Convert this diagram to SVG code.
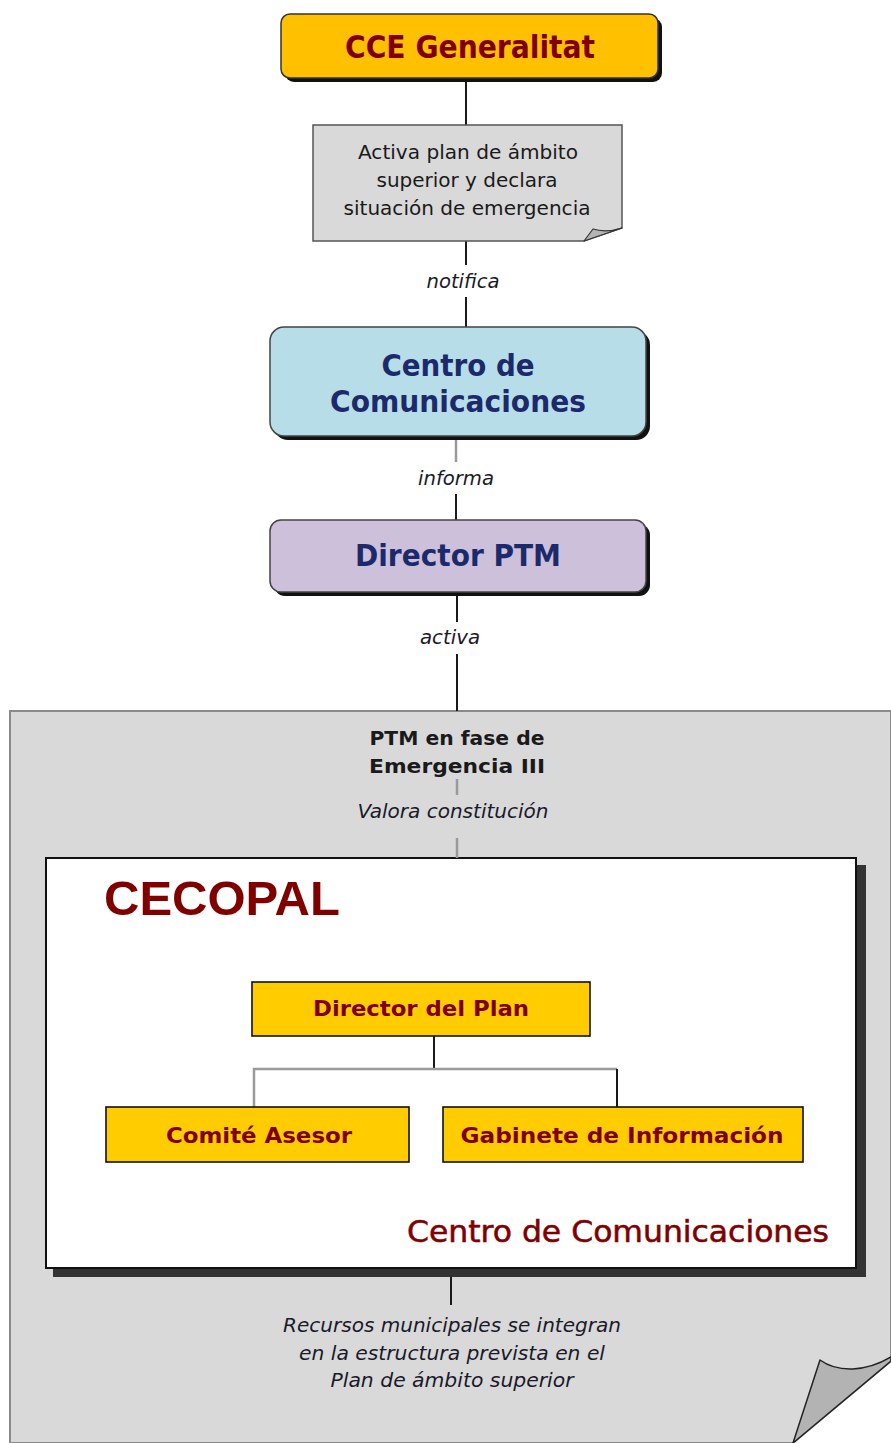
<svg xmlns="http://www.w3.org/2000/svg" width="891" height="1443" viewBox="0 0 891 1443">
<defs>
<style>
.t{font-family:"DejaVu Sans Condensed","DejaVu Sans",sans-serif;text-anchor:middle}
.b{font-weight:bold}
.i{font-style:italic;fill:#1a1a2a;font-size:19px}
.red{fill:#800000}
.navy{fill:#1c2a6b}
.dark{fill:#1a1a1a}
.ln{stroke:#1a1a1a;stroke-width:2;fill:none}
.lg{stroke:#9a9a9a;stroke-width:2.5;fill:none}
.shadow{fill:#111}
.gold{fill:#FFC000;stroke:#333;stroke-width:1.5}
.ybox{fill:#FFCC00;stroke:#111;stroke-width:1.6}
</style>
</defs>
<rect width="891" height="1443" fill="#fff"/>

<!-- big panel -->
<g id="panel">
<path d="M10,711 H891 V1361 L793,1443 H10 Z" fill="#d9d9d9" stroke="#8a8a8a" stroke-width="2"/>
<path d="M793,1443 L820,1360 C838,1373 866,1372 891,1357 L891,1361 Z" fill="#b3b3b3" stroke="#222" stroke-width="1.5" stroke-linejoin="round"/>
<text class="t b dark" x="457" y="745" font-size="19" textLength="175" lengthAdjust="spacingAndGlyphs">PTM en fase de</text>
<text class="t b dark" x="457" y="773" font-size="19" textLength="176" lengthAdjust="spacingAndGlyphs">Emergencia III</text>
</g>

<g id="cecopal">
<rect x="53" y="865" width="813" height="412" fill="#333"/>
<rect x="46" y="858" width="810" height="410" fill="#fff" stroke="#111" stroke-width="2"/>
<text x="104" y="915" font-family="'Liberation Sans',Arial,sans-serif" font-weight="bold" font-size="49" fill="#800000">CECOPAL</text>
<text class="t red" x="829" y="1242" font-size="30" style="text-anchor:end" stroke="#800000" stroke-width="0.5" textLength="422" lengthAdjust="spacingAndGlyphs">Centro de Comunicaciones</text>
</g>

<g id="connectors">
<line class="ln" x1="466" y1="78" x2="466" y2="125"/>
<line class="ln" x1="466" y1="240" x2="466" y2="265"/>
<line class="ln" x1="466" y1="297" x2="466" y2="327"/>
<line class="lg" x1="456" y1="437" x2="456" y2="462"/>
<line class="ln" x1="456" y1="494" x2="456" y2="520"/>
<line class="ln" x1="457" y1="593" x2="457" y2="622"/>
<line class="ln" x1="457" y1="654" x2="457" y2="711"/>
<line class="lg" x1="457" y1="779" x2="457" y2="795"/>
<line class="lg" x1="457" y1="838" x2="457" y2="858"/>
<line class="ln" x1="434" y1="1036" x2="434" y2="1068"/>
<path class="lg" d="M254,1107 V1069 H617"/>
<line class="ln" x1="617" y1="1069" x2="617" y2="1107"/>
<line class="ln" stroke-width="1.5" x1="451" y1="1277" x2="451" y2="1305"/>
<text class="t i" x="463" y="288" textLength="73" lengthAdjust="spacingAndGlyphs">notifica</text>
<text class="t i" x="456" y="485" textLength="76" lengthAdjust="spacingAndGlyphs">informa</text>
<text class="t i" x="450" y="644" textLength="60" lengthAdjust="spacingAndGlyphs">activa</text>
<text class="t i" x="453" y="818" textLength="191" lengthAdjust="spacingAndGlyphs">Valora constitución</text>
<text class="t i" x="452" y="1332" textLength="338" lengthAdjust="spacingAndGlyphs">Recursos municipales se integran</text>
<text class="t i" x="452" y="1360" textLength="306" lengthAdjust="spacingAndGlyphs">en la estructura prevista en el</text>
<text class="t i" x="452" y="1387" textLength="243" lengthAdjust="spacingAndGlyphs">Plan de ámbito superior</text>
</g>

<g id="cce">
<rect class="shadow" x="285" y="18" width="377" height="64" rx="9"/>
<rect class="gold" x="281" y="14" width="377" height="64" rx="9"/>
<text class="t b red" x="470" y="58" font-size="32" textLength="250" lengthAdjust="spacingAndGlyphs">CCE Generalitat</text>
</g>

<g id="note">
<path d="M313,125 H622 V228 L584,241 H313 Z" fill="#d9d9d9" stroke="#555" stroke-width="1.5"/>
<path d="M584,241 L593,229 Q606,233 622,228 Z" fill="#b3b3b3" stroke="#333" stroke-width="1.2" stroke-linejoin="round"/>
<text class="t dark" x="468" y="159" font-size="19" textLength="220" lengthAdjust="spacingAndGlyphs">Activa plan de ámbito</text>
<text class="t dark" x="467" y="187" font-size="19" textLength="181" lengthAdjust="spacingAndGlyphs">superior y declara</text>
<text class="t dark" x="467" y="215" font-size="19" textLength="247" lengthAdjust="spacingAndGlyphs">situación de emergencia</text>
</g>

<g id="centro">
<rect class="shadow" x="274" y="331" width="376" height="109" rx="14"/>
<rect x="270" y="327" width="376" height="109" rx="14" fill="#b7dde8" stroke="#444" stroke-width="1.5"/>
<text class="t b navy" x="458" y="376" font-size="31" textLength="153" lengthAdjust="spacingAndGlyphs">Centro de</text>
<text class="t b navy" x="458" y="412" font-size="31" textLength="256" lengthAdjust="spacingAndGlyphs">Comunicaciones</text>
</g>

<g id="director-ptm">
<rect class="shadow" x="274" y="524" width="376" height="72" rx="11"/>
<rect x="270" y="520" width="376" height="72" rx="11" fill="#ccc0da" stroke="#444" stroke-width="1.5"/>
<text class="t b navy" x="458" y="566" font-size="31" textLength="206" lengthAdjust="spacingAndGlyphs">Director PTM</text>
</g>

<g id="director-plan">
<rect class="ybox" x="252" y="982" width="338" height="54"/>
<text class="t b red" x="421" y="1016" font-size="21" textLength="216" lengthAdjust="spacingAndGlyphs">Director del Plan</text>
</g>

<g id="comite">
<rect class="ybox" x="106" y="1107" width="303" height="55"/>
<text class="t b red" x="259" y="1143" font-size="21" textLength="186" lengthAdjust="spacingAndGlyphs">Comité Asesor</text>
</g>

<g id="gabinete">
<rect class="ybox" x="443" y="1107" width="360" height="55"/>
<text class="t b red" x="622" y="1143" font-size="21" textLength="323" lengthAdjust="spacingAndGlyphs">Gabinete de Información</text>
</g>
</svg>
